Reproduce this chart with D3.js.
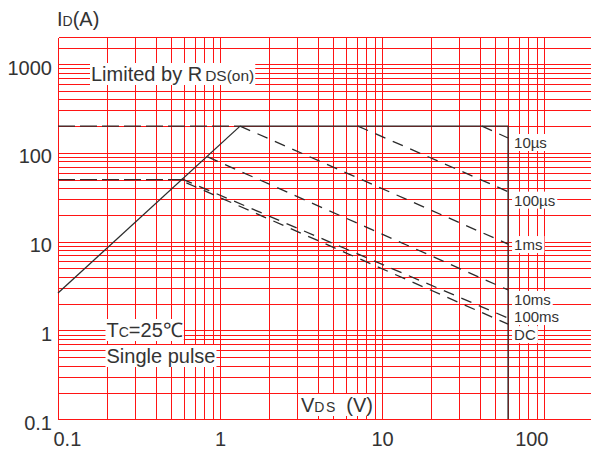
<!DOCTYPE html>
<html>
<head>
<meta charset="utf-8">
<script src="https://cdn.jsdelivr.net/npm/d3@7"></script>
<style>
  html, body { margin: 0; padding: 0; background: #fff; }
  svg { display: block; font-family: "Liberation Sans", Arial, sans-serif; }
</style>
</head>
<body>
<svg id="chart" width="591" height="450"></svg>
<script>
// ---- Axis ticks ----
const xTickValues = [0.1, 1, 10, 100];
const xTickLabels = ["0.1", "1", "10", "100"];
const yTickValues = [0.1, 1, 10, 100, 1000];
const yTickLabels = ["0.1", "1", "10", "100", "1000"];
const yExtraGrid = [1500];

// ---- Safe operating area boundaries, points are [VDS (V), ID (A)] ----
const rdsOnLimit = [[0.1, 2.64], [1.33, 200]];
const pulsedCurrentLimit = [[0.1, 200], [1.33, 200]];
const continuousCurrentLimit = [[0.1, 50], [0.6, 50]];
const outerEnvelope = [[1.33, 200], [60, 200], [60, 0.1]];

// ---- Pulse-width limited lines ----
const pulseNames  = ["10µs", "100µs", "1ms", "10ms", "100ms", "DC"];
const pulseStartV = [41.4, 7.1, 1.33, 0.84, 0.58, 0.62];
const pulseStartI = [200, 200, 200, 90, 51, 46];
const pulseEndV   = [60, 60, 60, 60, 60, 60];
const pulseEndI   = [147, 36.6, 9.4, 2.86, 1.38, 1.18];

// ---- Layout ----
const W = 591, H = 450;
const plotLeft = 58, plotTop = 37.3, plotBottom = 419.3, decadeX = 162;
const labelDy = [10, 14, 6, 15, 4, 16];   // baseline offset of each pulse label below its line end
const textColor = "#333";
const gridColor = "#ff1414";
const curveColor = "#2b2b2b";

const svg = d3.select("#chart");

const x = d3.scaleLog().domain([0.1, 200]).range([plotLeft, plotLeft + decadeX * Math.log10(2000)]);
const y = d3.scaleLog().domain([0.1, 2000]).range([plotBottom, plotTop]);
const px = v => Math.round(x(v)) + 0.5;
const py = v => Math.round(y(v)) + 0.5;

// ---- Grid ----
const grid = svg.append("g")
  .attr("stroke", gridColor)
  .attr("stroke-width", 1)
  .attr("shape-rendering", "crispEdges");

grid.selectAll("line.gv").data(x.ticks()).join("line")
  .attr("class", "gv")
  .attr("x1", d => px(d)).attr("x2", d => px(d))
  .attr("y1", py(2000)).attr("y2", py(0.1));

grid.selectAll("line.gh").data(y.ticks().concat(yExtraGrid)).join("line")
  .attr("class", "gh")
  .attr("x1", px(0.1)).attr("x2", W)
  .attr("y1", d => py(d)).attr("y2", d => py(d));

// ---- Text with a white backing box ----
function boxedText(parent, xPos, yPos, parts, size, pad) {
  const g = parent.append("g");
  const t = g.append("text")
    .attr("x", xPos).attr("y", yPos)
    .attr("fill", textColor)
    .attr("font-size", size);
  parts.forEach(p => {
    const ts = t.append("tspan").text(p.text);
    if (p.size) ts.attr("font-size", p.size);
    if (p.dx) ts.attr("dx", p.dx);
    if (p.ls) ts.attr("letter-spacing", p.ls);
  });
  const bb = t.node().getBBox();
  g.insert("rect", "text")
    .attr("x", bb.x - pad).attr("y", bb.y)
    .attr("width", bb.width + 2 * pad).attr("height", bb.height)
    .attr("fill", "#fff");
  return g;
}

const notes = svg.append("g");
boxedText(notes, 91, 81, [{text: "Limited by R"}, {text: "DS(on)", size: 15.5, dx: 3}], 20, 1);
boxedText(notes, 106.5, 337, [{text: "T"}, {text: "C", size: 14}, {text: "=25℃"}], 20, 1);
boxedText(notes, 106.5, 363, [{text: "Single pulse"}], 20, 1);
boxedText(notes, 301, 412, [{text: "V"}, {text: "DS", size: 14, ls: 1.5}, {text: " (V)", dx: 4}], 20, 1);

// ---- Pulse labels ----
pulseNames.forEach((name, i) => {
  boxedText(notes, x(pulseEndV[i]) + 6, y(pulseEndI[i]) + labelDy[i], [{text: name}], 15, 2);
});

// ---- Curves ----
const line = d3.line().x(d => x(d[0])).y(d => y(d[1]));
const curves = svg.append("g").attr("fill", "none").attr("stroke", curveColor).attr("stroke-width", 1.3);

curves.append("path").attr("d", line(rdsOnLimit));
curves.append("path").attr("d", line(outerEnvelope));
curves.append("path").attr("d", line(pulsedCurrentLimit)).attr("stroke-dasharray", "17,5");
curves.append("path").attr("d", line(continuousCurrentLimit)).attr("stroke-dasharray", "17,5");

pulseNames.forEach((name, i) => {
  curves.append("path")
    .attr("d", line([[pulseStartV[i], pulseStartI[i]], [pulseEndV[i], pulseEndI[i]]]))
    .attr("stroke-dasharray", "11,8");
});

// ---- Axes ----
const yAxis = svg.append("g")
  .attr("transform", `translate(${plotLeft},0)`)
  .call(d3.axisLeft(y).tickValues(yTickValues).tickFormat((d, i) => yTickLabels[i]).tickSize(0).tickPadding(6));
yAxis.select(".domain").remove();
yAxis.selectAll("text").attr("font-size", 20).attr("fill", textColor).attr("dy", "0.5em")
  .attr("font-family", "Liberation Sans, Arial, sans-serif");

const xAxis = svg.append("g")
  .attr("transform", `translate(0,${plotBottom})`)
  .call(d3.axisBottom(x).tickValues(xTickValues).tickFormat((d, i) => xTickLabels[i]).tickSize(0).tickPadding(13));
xAxis.select(".domain").remove();
xAxis.selectAll("text").attr("font-size", 20).attr("fill", textColor)
  .attr("font-family", "Liberation Sans, Arial, sans-serif");
// keep the outermost labels inside the frame
xAxis.selectAll("text").filter((d, i) => i === 0).attr("text-anchor", "start").attr("dx", -5);
xAxis.selectAll("text").filter((d, i) => i === xTickValues.length - 1).attr("text-anchor", "end").attr("dx", 4);

// ---- Y axis title ----
const title = svg.append("text").attr("x", 57).attr("y", 26).attr("fill", textColor).attr("font-size", 20);
title.append("tspan").text("I");
title.append("tspan").text("D").attr("font-size", 14);
title.append("tspan").text("(A)");
</script>
</body>
</html>
